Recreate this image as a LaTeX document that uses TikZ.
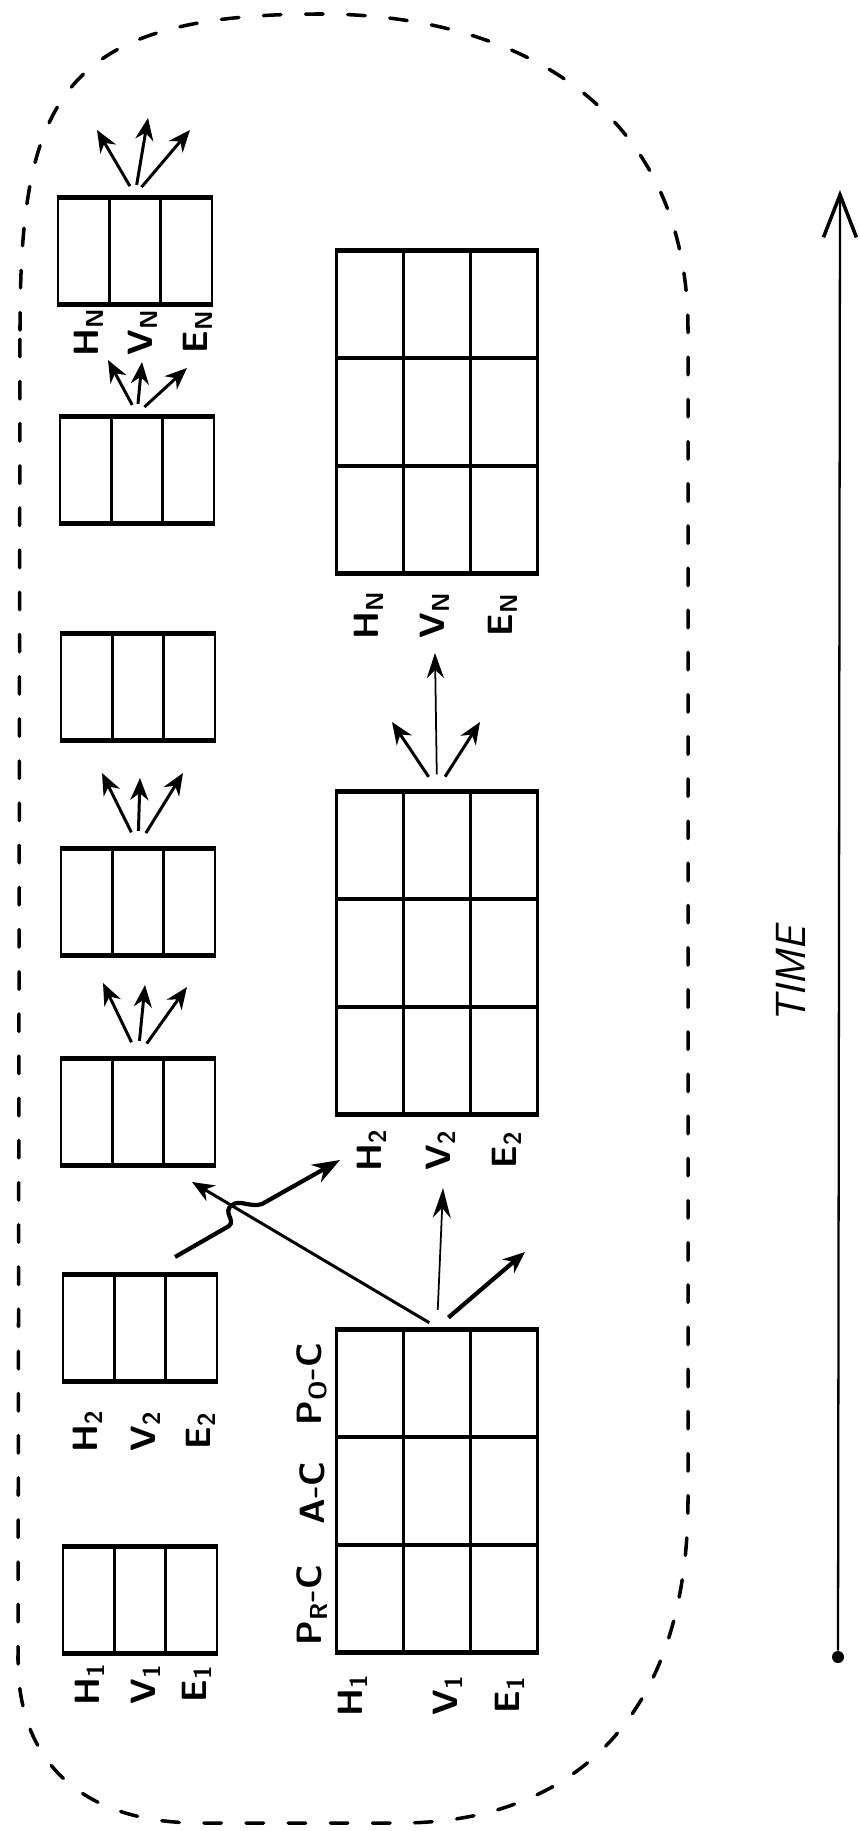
\documentclass[tikz,border=0pt]{standalone}
\usetikzlibrary{arrows.meta,calc}

\begin{document}
\begin{tikzpicture}[x=0.02cm,y=-0.02cm,
   lbl/.style={rotate=90,inner sep=0pt,font=\fontsize{20}{24}\selectfont\sffamily\bfseries},
   bound/.style={line width=2pt,dash pattern=on 10pt off 14pt,line cap=round},
   arr/.style={line width=1.7pt,-{Stealth[length=4.4mm,width=3.6mm,inset=1.4mm]}},
   arrthin/.style={arr,line width=1pt},
   arrthick/.style={arr,line width=2.4pt},
   tribox/.style={draw,line width=1.4pt,inner sep=0pt,minimum width=3.08cm,minimum height=2.2cm,
     path picture={
       \coordinate (pnw) at (path picture bounding box.north west);
       \coordinate (pne) at (path picture bounding box.north east);
       \coordinate (psw) at (path picture bounding box.south west);
       \coordinate (pse) at (path picture bounding box.south east);
       \draw[line width=1.4pt] ($(pnw)!1/3!(pne)$) -- ($(psw)!1/3!(pse)$)
                               ($(pnw)!2/3!(pne)$) -- ($(psw)!2/3!(pse)$);
       \draw[line width=4.4pt] (pnw) -- (pne) (psw) -- (pse);}},
   gridbox/.style={draw,line width=1.4pt,inner sep=0pt,minimum width=4.02cm,minimum height=6.5cm,
     path picture={
       \coordinate (pnw) at (path picture bounding box.north west);
       \coordinate (pne) at (path picture bounding box.north east);
       \coordinate (psw) at (path picture bounding box.south west);
       \coordinate (pse) at (path picture bounding box.south east);
       \draw[line width=1.4pt] ($(pnw)!1/3!(pne)$) -- ($(psw)!1/3!(pse)$)
                               ($(pnw)!2/3!(pne)$) -- ($(psw)!2/3!(pse)$);
       \draw[line width=2.6pt] ($(pnw)!1/3!(psw)$) -- ($(pne)!1/3!(pse)$)
                               ($(pnw)!2/3!(psw)$) -- ($(pne)!2/3!(pse)$);
       \draw[line width=4.4pt] (pnw) -- (pne) (psw) -- (pse);}}]
  \useasboundingbox (0,0) rectangle (859,1831);
  \fill[white] (0,0) rectangle (859,1831);

  % ---- dashed boundary ----
  \draw[bound] (20,330) .. controls (20,100) and (60,14) .. (320,14)
     .. controls (520,14) and (688,110) .. (688,330) -- (688,1500)
     .. controls (688,1730) and (560,1823) .. (400,1823) -- (200,1823)
     .. controls (80,1823) and (18,1760) .. (18,1660) -- cycle;

  % ---- left column : small boxes, oldest at the bottom ----
  \node[tribox] (s1) at (140,1600) {};
  \node[tribox] (s2) at (140,1328) {};
  \node[tribox] (s3) at (138,1112) {};
  \node[tribox] (s4) at (138,902) {};
  \node[tribox] (s5) at (138,687) {};
  \node[tribox] (s6) at (137,470) {};
  \node[tribox] (s7) at (135,251) {};

  \node[lbl] (s1h) at (90,1684) {H\textsubscript{1}};
  \node[lbl] (s1v) at (146,1684) {V\textsubscript{1}};
  \node[lbl] (s1e) at (197,1684) {E\textsubscript{1}};
  \node[lbl] (s2h) at (88,1431) {H\textsubscript{2}};
  \node[lbl] (s2v) at (146,1431) {V\textsubscript{2}};
  \node[lbl] (s2e) at (201,1431) {E\textsubscript{2}};
  \node[lbl] (s7h) at (89,332) {H\textsubscript{N}};
  \node[lbl] (s7v) at (143,332) {V\textsubscript{N}};
  \node[lbl] (s7e) at (198,332) {E\textsubscript{N}};

  % ---- right column : stage boxes ----
  \node[gridbox] (b1) at (437,1491) {};
  \node[gridbox] (b2) at (437,953) {};
  \node[gridbox] (b3) at (437,412) {};

  \node[lbl] (pr) at (312,1605) {P\textsubscript{R}-C};
  \node[lbl] (ac) at (312,1493) {A-C};
  \node[lbl] (po) at (312,1384) {P\textsubscript{O}-C};

  \node[lbl] (b1h) at (353,1695) {H\textsubscript{1}};
  \node[lbl] (b1v) at (448,1695) {V\textsubscript{1}};
  \node[lbl] (b1e) at (510,1695) {E\textsubscript{1}};
  \node[lbl] (b2h) at (372,1150) {H\textsubscript{2}};
  \node[lbl] (b2v) at (441,1150) {V\textsubscript{2}};
  \node[lbl] (b2e) at (507,1150) {E\textsubscript{2}};
  \node[lbl] (b3h) at (369,615) {H\textsubscript{N}};
  \node[lbl] (b3v) at (435,615) {V\textsubscript{N}};
  \node[lbl] (b3e) at (503,615) {E\textsubscript{N}};

  % ---- arrows up the left column ----
  \coordinate (t3a) at (103,983);
  \coordinate (t3b) at (145,985);
  \coordinate (t3c) at (187,987);
  \draw[arr,shorten <=0.3cm] (s3.north) -- (t3a);
  \draw[arr,shorten <=0.3cm] (s3.north) -- (t3b);
  \draw[arr,shorten <=0.3cm] (s3.north) -- (t3c);
  \coordinate (t4a) at (102,773);
  \coordinate (t4b) at (140,778);
  \coordinate (t4c) at (183,773);
  \draw[arr,shorten <=0.3cm] (s4.north) -- (t4a);
  \draw[arr,shorten <=0.3cm] (s4.north) -- (t4b);
  \draw[arr,shorten <=0.3cm] (s4.north) -- (t4c);
  \coordinate (t6a) at (108,360);
  \coordinate (t6b) at (142,362);
  \coordinate (t6c) at (187,368);
  \draw[arr,shorten <=0.2cm] (s6.north) -- (t6a);
  \draw[arr,shorten <=0.2cm] (s6.north) -- (t6b);
  \draw[arr,shorten <=0.2cm] (s6.north) -- (t6c);
  \coordinate (t7a) at (97,130);
  \coordinate (t7b) at (148,118);
  \coordinate (t7c) at (190,130);
  \draw[arr,shorten <=0.2cm] (s7.north) -- (t7a);
  \draw[arr,shorten <=0.2cm] (s7.north) -- (t7b);
  \draw[arr,shorten <=0.2cm] (s7.north) -- (t7c);

  % ---- arrows up the right column ----
  \coordinate (u1a) at (192,1182);
  \coordinate (u1b) at (443,1188);
  \coordinate (u1c) at (525,1252);
  \draw[arr,shorten <=0.18cm] (b1.north) -- (u1a);
  \draw[arrthin,-{Stealth[length=6mm,width=3.6mm,inset=2mm]},shorten <=0.35cm] (b1.north) -- (u1b);
  \draw[arrthick,shorten <=0.3cm] (b1.north) -- (u1c);
  \coordinate (u2a) at (392,722);
  \coordinate (u2b) at (435,653);
  \coordinate (u2c) at (480,722);
  \draw[arr,shorten <=0.3cm] (b2.north) -- (u2a);
  \draw[arrthin,-{Stealth[length=5mm,width=3.4mm,inset=1.6mm]},shorten <=0.3cm] (b2.north) -- (u2b);
  \draw[arr,shorten <=0.3cm] (b2.north) -- (u2c);

  % ---- crossing arrow, with a hop over the other one ----
  \coordinate (w0) at (175,1257);
  \coordinate (w1) at (340,1160);
  \draw[arrthick,-{Stealth[length=5.5mm,width=4mm,inset=1.8mm]}] (w0) -- (229,1226)
     .. controls (236,1220) and (222,1212) .. (232,1205)
     .. controls (240,1199) and (250,1208) .. (262,1204) -- (w1);

  % ---- time axis ----
  \node[circle,fill,inner sep=0pt,minimum size=0.24cm] (tdot) at (838,1657) {};
  \coordinate (ttip) at (840,190);
  \draw[line width=1.3pt,-{Straight Barb[length=8.5mm,width=6.6mm,line width=2pt]}] (tdot) -- (ttip);
  \node[lbl,font=\fontsize{24}{28}\selectfont\sffamily\itshape] (time) at (791,975) {TIME};
\end{tikzpicture}
\end{document}
